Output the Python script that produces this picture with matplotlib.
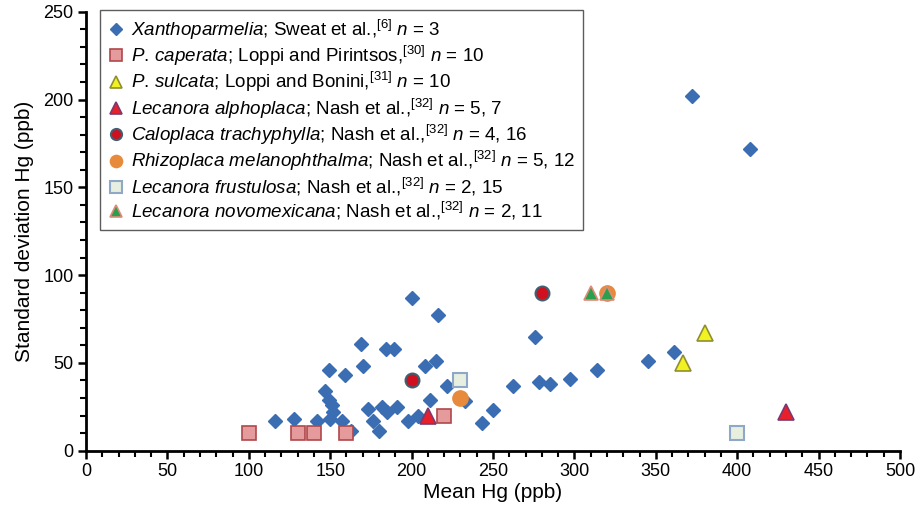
import matplotlib
matplotlib.use('Agg')
import matplotlib.pyplot as plt
from matplotlib.ticker import MultipleLocator

plt.rcParams['font.family'] = ['Liberation Sans', 'DejaVu Sans']
plt.rcParams['mathtext.fontset'] = 'custom'
plt.rcParams['mathtext.rm'] = 'Liberation Sans'
plt.rcParams['mathtext.it'] = 'Liberation Sans:italic'

# Xanthoparmelia; Sweat et al.
xantho_x = [116, 128, 142, 147, 149, 151, 152, 150, 157, 163, 149, 159, 170, 169,
            184, 189, 173, 176, 180, 182, 185, 191, 198, 204, 208, 215, 200, 216,
            222, 211, 233, 243, 250, 262, 276, 278, 285, 297, 314, 345, 361, 372, 408]
xantho_y = [17, 18, 17, 34, 29, 26, 22, 18, 17, 11, 46, 43, 48, 61,
            58, 58, 24, 17, 11, 25, 22, 25, 17, 20, 48, 51, 87, 77,
            37, 29, 28, 16, 23, 37, 65, 39, 38, 41, 46, 51, 56, 202, 172]

caperata_x = [100, 130, 140, 160, 220]
caperata_y = [10, 10, 10, 10, 20]

sulcata_x = [367, 380]
sulcata_y = [50, 67]

alphoplaca_x = [210, 430]
alphoplaca_y = [20, 22]

caloplaca_x = [200, 280]
caloplaca_y = [40, 90]

rhizoplaca_x = [230, 320]
rhizoplaca_y = [30, 90]

frustulosa_x = [230, 400]
frustulosa_y = [40, 10]

novomex_x = [310, 320]
novomex_y = [90, 90]

labels = [
    r'$\mathit{Xanthoparmelia}$; Sweat et al.,$^{[6]}$ $\mathit{n}$ = 3',
    r'$\mathit{P.}\,\mathit{caperata}$; Loppi and Pirintsos,$^{[30]}$ $\mathit{n}$ = 10',
    r'$\mathit{P.}\,\mathit{sulcata}$; Loppi and Bonini,$^{[31]}$ $\mathit{n}$ = 10',
    r'$\mathit{Lecanora\ alphoplaca}$; Nash et al.,$^{[32]}$ $\mathit{n}$ = 5, 7',
    r'$\mathit{Caloplaca\ trachyphylla}$; Nash et al.,$^{[32]}$ $\mathit{n}$ = 4, 16',
    r'$\mathit{Rhizoplaca\ melanophthalma}$; Nash et al.,$^{[32]}$ $\mathit{n}$ = 5, 12',
    r'$\mathit{Lecanora\ frustulosa}$; Nash et al.,$^{[32]}$ $\mathit{n}$ = 2, 15',
    r'$\mathit{Lecanora\ novomexicana}$; Nash et al.,$^{[32]}$ $\mathit{n}$ = 2, 11',
]

fig = plt.figure(figsize=(9.15, 5.15), dpi=100, facecolor='white')
ax = fig.add_axes([0.094, 0.125, 0.8896, 0.852])

ax.plot(xantho_x, xantho_y, 'D', ms=7.5, color='#3a6db2', mec='#3a6db2', label=labels[0])
ax.plot(caperata_x, caperata_y, 's', ms=10, mfc='#e59a9c', mec='#b0484c', mew=1.2, label=labels[1])
ax.plot(sulcata_x, sulcata_y, '^', ms=11, mfc='#f2f222', mec='#8f8f30', mew=1.2, label=labels[2])
ax.plot(alphoplaca_x, alphoplaca_y, '^', ms=11, mfc='#e8202c', mec='#7a3a70', mew=1.2, label=labels[3])
ax.plot(caloplaca_x, caloplaca_y, 'o', ms=10, mfc='#d0101e', mec='#3f5f72', mew=1.5, label=labels[4])
ax.plot(rhizoplaca_x, rhizoplaca_y, 'o', ms=11, mfc='#e88a3c', mec='#e88a3c', label=labels[5])
ax.plot(frustulosa_x, frustulosa_y, 's', ms=10, mfc='#e6efe0', mec='#8fa8c8', mew=1.5, label=labels[6])
ax.plot(novomex_x, novomex_y, '^', ms=10, mfc='#2aa04e', mec='#e08a78', mew=1.2, label=labels[7])

ax.set_xlim(0, 500)
ax.set_ylim(0, 250)
ax.xaxis.set_major_locator(MultipleLocator(50))
ax.xaxis.set_minor_locator(MultipleLocator(10))
ax.yaxis.set_major_locator(MultipleLocator(50))
ax.yaxis.set_minor_locator(MultipleLocator(10))

for side in ['top', 'right']:
    ax.spines[side].set_visible(False)
for side in ['left', 'bottom']:
    ax.spines[side].set_linewidth(2)
ax.tick_params(which='major', direction='out', length=6, width=1.8, labelsize=13, pad=3)
ax.tick_params(which='minor', direction='out', length=4, width=1.5)

ax.set_xlabel('Mean Hg (ppb)', fontsize=15, labelpad=2)
ax.set_ylabel('Standard deviation Hg (ppb)', fontsize=15, labelpad=7)

leg = ax.legend(loc='upper left', bbox_to_anchor=(100 / 915, 1 - 10 / 515),
                bbox_transform=fig.transFigure, fontsize=13.5, frameon=True,
                fancybox=False, edgecolor='#333333', borderpad=0.4,
                labelspacing=0.12, handletextpad=0.35, handlelength=0.9,
                markerscale=0.8, borderaxespad=0)
leg.get_frame().set_linewidth(1.0)

plt.savefig('out.png', dpi=100, facecolor='white')
